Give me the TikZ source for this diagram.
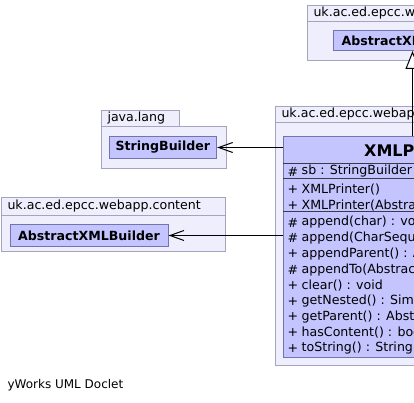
\documentclass[tikz,border=0pt]{standalone}
\usepackage{fontspec}
\setmainfont{DejaVu Sans}
\usetikzlibrary{arrows.meta, positioning}
\definecolor{pkgfill}{RGB}{238,238,252}
\definecolor{pkgline}{RGB}{164,164,188}
\definecolor{clsfill}{RGB}{196,196,255}
\definecolor{clsline}{RGB}{116,116,172}
\definecolor{sepline}{RGB}{60,60,72}

\begin{document}
\begin{tikzpicture}[x=1pt,y=-1pt,
    font=\fontsize{12.6}{15}\selectfont,
    pkg/.style={draw=pkgline,fill=pkgfill,line width=1pt},
    pkglabel/.style={anchor=west,inner xsep=5.8pt,inner ysep=0pt},
    cls/.style={draw=clsline,fill=clsfill,line width=1pt,inner sep=0pt,
        font=\fontsize{12.6}{15}\selectfont\bfseries},
    member/.style={anchor=west,inner sep=0pt},
    uses/.style={draw=black,line width=1pt,
        -{Straight Barb[length=14pt,width=10pt,line width=1pt]}},
    extends/.style={draw=black,line width=1pt,
        -{Triangle[open,fill=white,length=18pt,width=14pt,line width=1pt]}}]

  \useasboundingbox (0,0) rectangle (414,403);
  \clip (0,0) rectangle (414,403);

  % package of the super class
  \draw[pkg] (307.5,5.5) rectangle (520,21.5);
  \draw[pkg] (307.5,21.5) rectangle (600,60.5);
  \node[pkglabel] (toplbl) at (307.5,13.5) {uk.ac.ed.epcc.webapp.content};
  \node[cls,minimum width=158.4,minimum height=20] (axbsuper) at (412.5,40.5) {AbstractXMLBuilder};

  % java.lang
  \draw[pkg] (101.5,110.5) rectangle (179.5,126.5);
  \draw[pkg] (101.5,126.5) rectangle (226.5,168.5);
  \node[pkglabel] (langlbl) at (101.5,118.5) {java.lang};
  \node[cls,minimum width=107.7,minimum height=22.6] (sbuilder) at (162.85,147.5) {StringBuilder};

  % webapp.content on the left
  \draw[pkg] (1.5,197.5) rectangle (225.5,215.5);
  \draw[pkg] (1.5,215.5) rectangle (225.5,251.5);
  \node[pkglabel] (contlbl) at (1.5,206.5) {uk.ac.ed.epcc.webapp.content};
  \node[cls,minimum width=158,minimum height=22.7] (axb) at (89,235.5) {AbstractXMLBuilder};

  % package of XMLPrinter
  \draw[pkg] (275.5,106.5) rectangle (520,122.5);
  \draw[pkg] (275.5,122.5) rectangle (600,365.5);
  \node[pkglabel] (mainlbl) at (275.5,114.5) {uk.ac.ed.epcc.webapp.content};

  \node[cls,anchor=north west,minimum width=257.3,minimum height=220.6] (printer) at (282.5,136.5) {};
  \node[anchor=west,inner sep=0pt,font=\fontsize{16}{19}\selectfont\bfseries] (prhead) at (364,150.5) {XMLPrinter};
  \foreach \sy in {163.5,178.5,211.5}
    \draw[sepline,line width=1pt] (printer.west |- 0,\sy) -- (printer.east |- 0,\sy);

  \foreach \ry/\vis/\txt in {171.5/\#/sb : StringBuilder,
      189.3/+/XMLPrinter(),
      205.5/+/XMLPrinter(AbstractXMLBuilder),
      222.5/\#/append(char) : void,
      238.2/\#/append(CharSequence) : void,
      254/+/appendParent() : AbstractXMLBuilder,
      269.7/\#/appendTo(AbstractXMLBuilder) : void,
      285.5/+/clear() : void,
      301.2/+/getNested() : SimpleXMLBuilder,
      317/+/getParent() : AbstractXMLBuilder,
      332.7/+/hasContent() : boolean,
      348.5/+/toString() : String}
  {
    \node[member] at (287.5,\ry) {\vis};
    \node[member] at (301.5,\ry) {\txt};
  }

  % connectors
  \draw[uses] (printer.west |- sbuilder.east) -- (sbuilder.east);
  \draw[uses] (printer.west |- axb.east) -- (axb.east);
  \draw[extends] (printer.north -| axbsuper.south) -- (axbsuper.south);

  \node[anchor=west,inner sep=0pt,font=\fontsize{12}{14}\selectfont] (credit) at (7.3,385) {yWorks UML Doclet};
\end{tikzpicture}
\end{document}
